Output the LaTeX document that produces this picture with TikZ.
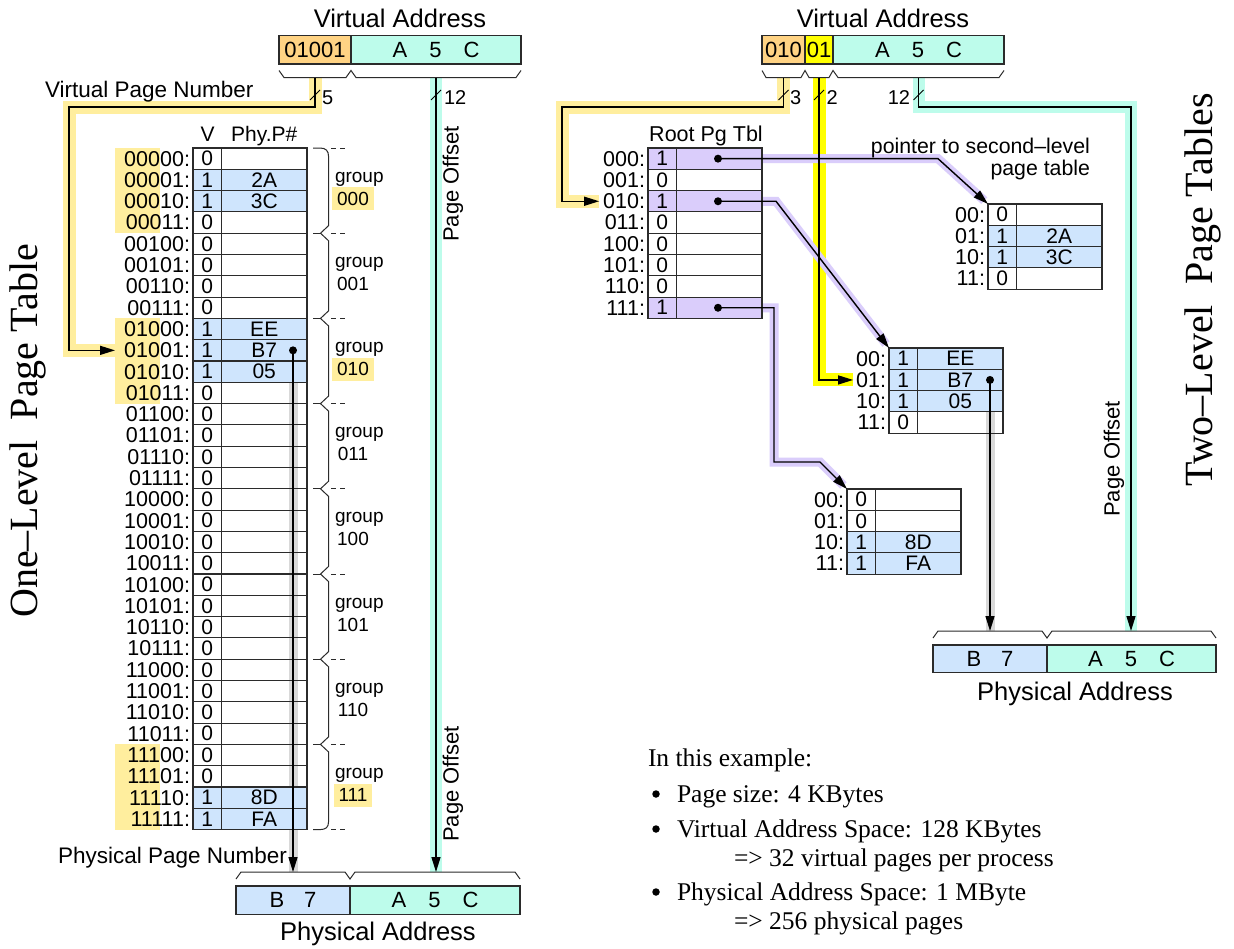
\documentclass[tikz,border=0pt]{standalone}
\usepackage{fontspec}
\setmainfont{Liberation Sans}
\newfontfamily\serifTNR{Liberation Serif}
\usetikzlibrary{arrows.meta}
\pgfdeclarelayer{bg}
\pgfsetlayers{bg,main}
\definecolor{vpnorange}{HTML}{FFD384}
\definecolor{offteal}{HTML}{BDFCEB}
\definecolor{hlyel}{HTML}{FFEE9E}
\definecolor{brightyel}{HTML}{FFFF00}
\definecolor{cellblue}{HTML}{CFE5FD}
\definecolor{lav}{HTML}{DACDFB}
\definecolor{shadegray}{HTML}{D9D9D9}
\definecolor{linec}{HTML}{2B2B2B}
\newcommand{\fsz}[1]{\fontsize{#1}{#1}\selectfont}
\tikzset{
  every node/.style={inner sep=0pt, outer sep=0pt},
  cell/.style={draw=linec, line width=1.1pt, minimum height=21.3pt, anchor=north west, font=\fsz{21}},
  rlab/.style={anchor=east, font=\fsz{21.5}},
  abox/.style={draw=linec, line width=1.1pt, minimum height=28.5pt, anchor=north west, font=\fsz{22}},
  title/.style={anchor=base, font=\fsz{25.5}},
  small/.style={font=\fsz{20}},
  grp/.style={font=\fsz{19}},
  brc/.style={draw=linec, line width=1pt},
  conn/.style={draw=black, line width=1.4pt, -{Triangle[length=15pt,width=9pt]}},
  slash/.style={draw=black, line width=1pt},
  band/.style={line width=13pt, line join=miter},
  grayband/.style={draw=shadegray, line width=9pt},
  dotn/.style={circle, fill=black, minimum size=8pt},
  bulletn/.style={circle, fill=black, minimum size=7.5pt},
  serif/.style={font=\fsz{25.5}\serifTNR, anchor=base west},
  bigserif/.style={font=\fsz{40}\serifTNR, rotate=90},
  vlab/.style={font=\fsz{22}, rotate=90},
}
\newcommand{\pgtab}[5]{%
  \foreach \lab/\v/\p [count=\i from 0] in {#5} {
    \pgfmathsetmacro\yy{#3+21.3*\i}
    \ifnum\v=1 \def\fc{#4}\else\def\fc{none}\fi
    \node[cell, minimum width=28.5pt, fill=\fc] (#1-\i-v) at (#2,\yy) {\v};
    \node[cell, minimum width=85.5pt, fill=\fc] (#1-\i-p) at (#2+28.5,\yy) {\p};
    \node[rlab] (#1-\i-l) at (#2-3,\yy+10.65) {\lab:};
  }
}
\begin{document}
\begin{tikzpicture}[x=1pt,y=-1pt]
\useasboundingbox (0,0) rectangle (1234,948);

% ---------------- LEFT: one-level ----------------
\node[title] (vaLtitle) at (400,27.5) {Virtual Address};
\node[abox, fill=vpnorange, minimum width=72pt] (vaLo) at (279,35.5) {01001};
\node[abox, fill=offteal, minimum width=170pt] (vaLt) at (351,35.5) {A\hspace{22pt}5\hspace{22pt}C};
\draw[brc] (279,70.5) -- (284,77.5) -- (346,77.5) -- (351,70.5) -- (356,77.5) -- (516,77.5) -- (521,70.5);

\node[font=\fsz{22.5}, anchor=base west] (vpnlab) at (45,97) {Virtual Page Number};

\foreach \g in {0,2,7}
  \node[fill=hlyel, minimum width=44.5pt, minimum height=85.2pt, anchor=north west] (hlL\g) at (115,{148+85.2*\g}) {};

\node[font=\fsz{21}, anchor=base] (hdV) at (207.75,141) {V};
\node[font=\fsz{21}, anchor=base] (hdP) at (264.25,141) {Phy.P\#};

\pgtab{L}{193}{148}{cellblue}{00000/0/{},00001/1/2A,00010/1/3C,00011/0/{},00100/0/{},00101/0/{},00110/0/{},00111/0/{},01000/1/EE,01001/1/B7,01010/1/05,01011/0/{},01100/0/{},01101/0/{},01110/0/{},01111/0/{},10000/0/{},10001/0/{},10010/0/{},10011/0/{},10100/0/{},10101/0/{},10110/0/{},10111/0/{},11000/0/{},11001/0/{},11010/0/{},11011/0/{},11100/0/{},11101/0/{},11110/1/8D,11111/1/FA}

% group braces
\draw[brc] (313,148) -- (320,148) .. controls (326,148) and (328.5,151) .. (328.5,156)
  \foreach \k in {1,...,7} { -- (328.5,{148+85.2*\k-7.5}) -- (320.5,{148+85.2*\k}) -- (328.5,{148+85.2*\k+7.5}) }
  -- (328.5,822) .. controls (328.5,827) and (326,829.6) .. (320,829.6) -- (313,829.6);
\foreach \k in {1,...,7}
  \draw[brc] (313,{148+85.2*\k}) -- (320.5,{148+85.2*\k});
\foreach \k in {0,...,8}
  \draw[linec, line width=0.9pt, dash pattern=on 5pt off 4pt] (331,{148+85.2*\k}) -- (347,{148+85.2*\k});
\foreach \c [count=\g from 0] in {000,001,010,011,100,101,110,111} {
  \pgfmathsetmacro\gc{148+85.2*\g+42.6}
  \ifnum\g=0 \def\gf{hlyel}\else\ifnum\g=2 \def\gf{hlyel}\else\ifnum\g=7 \def\gf{hlyel}\else\def\gf{none}\fi\fi\fi
  \node[grp, anchor=base west] (grp\g) at (335,\gc-8.6) {group};
  \node[grp, fill=\gf, minimum height=23pt, inner xsep=5pt] (gcode\g) at (353,\gc+8) {\c};
}

\node[dotn] (dotL) at (293,350.35) {};
\coordinate (vpnL) at (315,77.5);
\coordinate (vpnB) at (69,107);
\coordinate (offL) at (436,77.5);
\coordinate (offLend) at (436,872);
\coordinate (ppnL) at (293,872);

\draw[conn] (vpnL) |- (vpnB) |- (hlL2.west |- L-9-v.center);
\draw[conn] (offL) -- (offLend);
\draw[conn] (dotL.center) -- (ppnL);
\draw[slash] (310,100) -- (320,90);
\node[small, anchor=base west] (n5) at (322,104.5) {5};
\draw[slash] (431,100) -- (441,90);
\node[small, anchor=base west] (n12L) at (444,104.5) {12};
\node[vlab] (poL1) at (453,184) {Page Offset};
\node[vlab] (poL2) at (453,784) {Page Offset};

\node[font=\fsz{22.5}, anchor=base west] (ppnlab) at (58,863) {Physical Page Number};
\draw[brc] (236,879) -- (241,872) -- (345,872) -- (350,879) -- (355,872) -- (515,872) -- (520,879);
\node[abox, fill=cellblue, minimum width=114pt] (paLb) at (236,886) {B\hspace{20pt}7};
\node[abox, fill=offteal, minimum width=170pt] (paLt) at (350,886) {A\hspace{22pt}5\hspace{22pt}C};
\node[title] (paLtitle) at (378,940) {Physical Address};

\node[bigserif] (oneTitle) at (28,431) {One–Level\ \ Page Table};

% ---------------- RIGHT: two-level ----------------
\node[title] (vaRtitle) at (883,27.5) {Virtual Address};
\node[abox, fill=vpnorange, minimum width=43pt] (vaRo) at (762,35.5) {010};
\node[abox, fill=brightyel, minimum width=28pt] (vaRy) at (805,35.5) {01};
\node[abox, fill=offteal, minimum width=171pt] (vaRt) at (833,35.5) {A\hspace{22pt}5\hspace{22pt}C};
\draw[brc] (762,70.5) -- (766,77.5) -- (801,77.5) -- (805,70.5) -- (809,77.5) -- (829,77.5) -- (833,70.5) -- (838,77.5) -- (999,77.5) -- (1004,70.5);

\node[font=\fsz{21.5}, anchor=base] (rootT) at (706,141) {Root Pg Tbl};
\pgtab{R}{648}{148}{lav}{000/1/{},001/0/{},010/1/{},011/0/{},100/0/{},101/0/{},110/0/{},111/1/{}}
\pgtab{TA}{988}{204}{cellblue}{00/0/{},01/1/2A,10/1/3C,11/0/{}}
\pgtab{TB}{889}{348}{cellblue}{00/1/EE,01/1/B7,10/1/05,11/0/{}}
\pgtab{TC}{847}{489}{cellblue}{00/0/{},01/0/{},10/1/8D,11/1/FA}

\node[font=\fsz{21.3}, anchor=base east] (ptxt1) at (1090,153) {pointer to second–level};
\node[font=\fsz{21.3}, anchor=base east] (ptxt2) at (1090,175) {page table};

\node[dotn] (dotR0) at (718,158.65) {};
\node[dotn] (dotR2) at (718,201.25) {};
\node[dotn] (dotR7) at (718,307.75) {};
\node[dotn] (dotT) at (990,379.95) {};

\coordinate (p0b) at (938,158.65);
\coordinate (p1b) at (776,201.25);
\coordinate (p2a) at (774,307.75);
\coordinate (p2b) at (774,462);
\coordinate (p2c) at (820,462);
\coordinate (rvL) at (783.5,77.5);
\coordinate (rvB) at (562,107);
\coordinate (ryL) at (819,77.5);
\coordinate (rtL) at (918.5,77.5);
\coordinate (rtB) at (1131,107);
\coordinate (rtE) at (1131,631);
\coordinate (ppnR) at (990,631);

\draw[conn] (dotR0.center) -- (p0b) -- (TA-0-v.north west);
\draw[conn] (dotR2.center) -- (p1b) -- (TB-0-v.north west);
\draw[conn] (dotR7.center) -- (p2a) -- (p2b) -- (p2c) -- (TC-0-v.north west);
\draw[conn] (rvL) |- (rvB) |- ([xshift=-4pt]R-2-l.west);
\draw[conn] (ryL) |- ([xshift=-3pt]TB-1-l.west);
\draw[conn] (rtL) |- (rtB) -- (rtE);
\draw[conn] (dotT.center) -- (ppnR);

\draw[slash] (778.5,100) -- (788.5,90);
\node[small, anchor=base west] (n3) at (790,104.5) {3};
\draw[slash] (814,100) -- (824,90);
\node[small, anchor=base west] (n2) at (826.5,104.5) {2};
\draw[slash] (913.5,100) -- (923.5,90);
\node[small, anchor=base east] (n12R) at (910,104.5) {12};
\node[vlab] (poR) at (1114,459) {Page Offset};

\draw[brc] (933,638) -- (938,631) -- (1042,631) -- (1047,638) -- (1052,631) -- (1211,631) -- (1216,638);
\node[abox, fill=cellblue, minimum width=114pt, minimum height=27.5pt] (paRb) at (933,645) {B\hspace{20pt}7};
\node[abox, fill=offteal, minimum width=169pt, minimum height=27.5pt] (paRt) at (1047,645) {A\hspace{22pt}5\hspace{22pt}C};
\node[title] (paRtitle) at (1075,700) {Physical Address};

\node[bigserif] (twoTitle) at (1203,290) {Two–Level\ \ Page Tables};

% notes
\node[serif] (ex0) at (648,766) {In this example:};
\node[bulletn] (bu1) at (656,794) {};
\node[serif] (ex1) at (677,802) {Page size: 4 KBytes};
\node[bulletn] (bu2) at (656,829) {};
\node[serif] (ex2) at (677,837) {Virtual Address Space: 128 KBytes};
\node[serif] (ex3) at (734,866) {=> 32 virtual pages per process};
\node[bulletn] (bu3) at (656,892) {};
\node[serif] (ex4) at (677,900) {Physical Address Space: 1 MByte};
\node[serif] (ex5) at (734,929) {=> 256 physical pages};

% ---------------- background bands ----------------
\begin{pgfonlayer}{bg}
  \fill[white] (0,0) rectangle (1234,948);
  \draw[band, hlyel] (vpnL) |- (vpnB) |- (hlL2.west |- L-9-v.center);
  \draw[band, offteal, line width=12pt] (offL) -- (offLend);
  \draw[grayband] (dotL.center |- L-11-v.north) -- (ppnL);
  \draw[band, hlyel] (rvL) |- (rvB) |- ([xshift=-4pt]R-2-l.west);
  \draw[band, brightyel] (ryL) |- ([xshift=-3pt]TB-1-l.west);
  \draw[band, offteal, line width=12pt] (rtL) |- (rtB) -- (rtE);
  \draw[grayband] (dotT.center |- TB-3-v.north) -- (ppnR);
  \draw[lav, line width=9pt, line join=miter, shorten >=5pt] (dotR0.center) -- (p0b) -- (TA-0-v.north west);
  \draw[lav, line width=9pt, line join=miter, shorten >=5pt] (dotR2.center) -- (p1b) -- (TB-0-v.north west);
  \draw[lav, line width=9pt, line join=miter, shorten >=5pt] (dotR7.center) -- (p2a) -- (p2b) -- (p2c) -- (TC-0-v.north west);
\end{pgfonlayer}
\end{tikzpicture}
\end{document}
